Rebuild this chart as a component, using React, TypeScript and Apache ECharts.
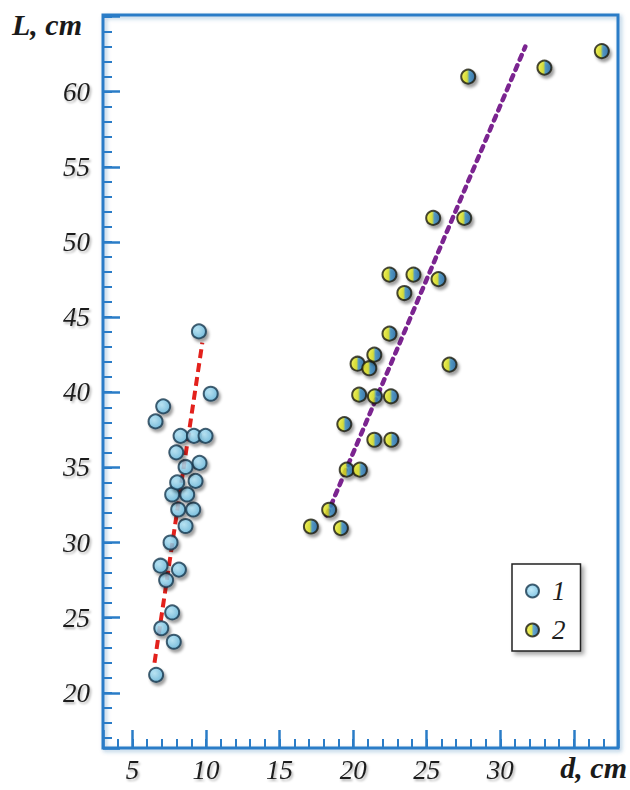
import React, { useEffect, useRef } from 'react';
import * as echarts from 'echarts';

// Series 1 (blue circles)
const series1X = [6.61, 6.96, 7.81, 7.7, 7.29, 6.91, 8.16, 7.59, 8.61, 8.11, 9.13, 7.7, 8.72, 8.04, 9.29, 9.56, 8.61, 7.98, 8.27, 9.18, 9.97, 6.57, 7.09, 9.52, 10.32];
const series1Y = [21.2, 24.3, 23.4, 25.35, 27.5, 28.46, 28.2, 30.0, 31.1, 32.2, 32.2, 33.2, 33.2, 34.0, 34.1, 35.3, 35.03, 36.0, 37.1, 37.1, 37.1, 38.06, 39.06, 44.05, 39.9];

// Series 2 (yellow/blue circles)
const series2X = [17.13, 19.17, 18.37, 19.56, 20.46, 19.4, 21.44, 22.6, 20.41, 21.48, 22.57, 20.3, 21.1, 21.44, 22.47, 26.55, 23.48, 22.47, 24.1, 25.8, 25.44, 27.55, 27.82, 33.0, 36.9];
const series2Y = [31.07, 30.96, 32.18, 34.85, 34.85, 37.88, 36.84, 36.84, 39.84, 39.73, 39.73, 41.9, 41.6, 42.5, 43.9, 41.84, 46.6, 47.83, 47.83, 47.53, 51.6, 51.6, 61.0, 61.6, 62.7];

// Trend lines (end points)
const trend1X = [6.5, 9.75];
const trend1Y = [22.0, 43.3];
const trend2X = [18.2, 31.7];
const trend2Y = [31.8, 63.0];

const xTickLabels = [5, 10, 15, 20, 25, 30];
const yTickLabels = [20, 25, 30, 35, 40, 45, 50, 55, 60];
const seriesNames = ['1', '2'];
const xAxisName = 'd, cm';
const yAxisName = 'L, cm';

const X_MIN = 3;
const X_MAX = 38;
const Y_MIN = 16.33;
const Y_MAX = 65.1;

const zip = (xs: number[], ys: number[]) => xs.map((x, i) => [x, ys[i]]);

const BLUE = '#2a7cc7';
const labelStyle = {
  fontFamily: 'Liberation Serif',
  fontStyle: 'italic' as const,
  fontSize: 27,
  color: '#1e1e1e',
  textShadowColor: 'rgba(0,0,0,0.3)',
  textShadowBlur: 2,
  textShadowOffsetX: 1.5,
  textShadowOffsetY: 2,
};

export default function App() {
  const ref = useRef<HTMLDivElement>(null);
  useEffect(() => {
    const chart = echarts.init(ref.current!, null, { renderer: 'svg' });
    const markerShadow = { shadowColor: 'rgba(0,0,0,0.45)', shadowBlur: 3, shadowOffsetX: 2, shadowOffsetY: 3 };
    const minorAxisX = {
      type: 'value', min: X_MIN, max: X_MAX, minInterval: 1, maxInterval: 1, position: 'bottom',
      axisLine: { show: false }, splitLine: { show: false }, axisLabel: { show: false },
      axisTick: { show: true, inside: true, length: 9, lineStyle: { color: BLUE, width: 2 } },
    };
    const majorAxisX = {
      type: 'value', min: X_MIN, max: X_MAX, minInterval: 5, maxInterval: 5, position: 'bottom',
      axisLine: { show: false }, splitLine: { show: false },
      axisTick: { show: true, inside: true, length: 18, lineStyle: { color: BLUE, width: 2.5 } },
      axisLabel: { show: true, margin: 8, ...labelStyle, formatter: (v: number) => (xTickLabels.includes(v) ? String(v) : '') },
    };
    const minorAxisY = {
      type: 'value', min: Y_MIN, max: Y_MAX, minInterval: 1, maxInterval: 1, position: 'left',
      axisLine: { show: false }, splitLine: { show: false }, axisLabel: { show: false },
      axisTick: { show: true, inside: true, length: 9, lineStyle: { color: BLUE, width: 2 } },
    };
    const majorAxisY = {
      type: 'value', min: Y_MIN, max: Y_MAX, minInterval: 5, maxInterval: 5, position: 'left',
      axisLine: { show: false }, splitLine: { show: false },
      axisTick: { show: true, inside: true, length: 17, lineStyle: { color: BLUE, width: 2.5 } },
      axisLabel: { show: true, margin: 13, ...labelStyle, formatter: (v: number) => (yTickLabels.includes(v) ? String(v) : '') },
    };

    chart.setOption({
      animation: false,
      backgroundColor: '#ffffff',
      grid: {
        show: true, left: 103, top: 15, right: 12, bottom: 42,
        borderColor: BLUE, borderWidth: 3, backgroundColor: 'transparent',
        shadowColor: 'rgba(30,90,160,0.35)', shadowBlur: 4, shadowOffsetX: 2, shadowOffsetY: 2,
      },
      xAxis: [minorAxisX, majorAxisX],
      yAxis: [minorAxisY, majorAxisY],
      legend: {
        data: seriesNames, orient: 'vertical', left: 512, top: 564, padding: [13, 15, 7, 13],
        itemGap: 11, itemWidth: 13, itemHeight: 13,
        borderColor: '#222', borderWidth: 1.5, backgroundColor: '#ffffff',
        shadowColor: 'rgba(0,0,0,0.35)', shadowBlur: 4, shadowOffsetX: 3, shadowOffsetY: 3,
        selectedMode: false, icon: 'circle',
        textStyle: { fontFamily: 'Liberation Serif', fontStyle: 'italic', fontSize: 27, color: '#1e1e1e', lineHeight: 28, padding: [0, 0, 0, 8] },
      },
      graphic: [
        { type: 'text', left: 12, top: 9, style: { text: yAxisName, font: 'italic bold 30px "Liberation Serif"', fill: '#1a1a1a' } },
        { type: 'text', right: 3, top: 752, style: { text: xAxisName, font: 'italic bold 30px "Liberation Serif"', fill: '#1a1a1a' } },
      ],
      series: [
        { name: 'trend1', type: 'line', xAxisIndex: 0, yAxisIndex: 0, data: zip(trend1X, trend1Y), symbol: 'none', z: 2,
          lineStyle: { color: '#e3211c', width: 4, type: [9, 5] } },
        { name: 'trend2', type: 'line', xAxisIndex: 0, yAxisIndex: 0, data: zip(trend2X, trend2Y), symbol: 'none', z: 2,
          lineStyle: { color: '#7b2490', width: 4.5, type: [5, 6], cap: 'round' } },
        { name: seriesNames[0], type: 'scatter', xAxisIndex: 0, yAxisIndex: 0, data: zip(series1X, series1Y), symbolSize: 14, z: 3,
          itemStyle: {
            color: new echarts.graphic.RadialGradient(0.4, 0.4, 0.7, [{ offset: 0, color: '#b4e6f8' }, { offset: 1, color: '#5fb4dc' }]),
            borderColor: '#17384f', borderWidth: 2, ...markerShadow,
          } },
        { name: seriesNames[1], type: 'scatter', xAxisIndex: 0, yAxisIndex: 0, data: zip(series2X, series2Y), symbolSize: 14, z: 3,
          itemStyle: {
            color: new echarts.graphic.LinearGradient(0, 0, 1, 0, [
              { offset: 0, color: '#f4f23a' }, { offset: 0.42, color: '#d6df1e' },
              { offset: 0.58, color: '#3a8fc2' }, { offset: 1, color: '#1f62a0' }]),
            borderColor: '#1a1a0e', borderWidth: 2, ...markerShadow,
          } },
      ],
    });
    return () => chart.dispose();
  }, []);
  return <div ref={ref} style={{ position: 'fixed', left: 0, top: 0, width: 630, height: 790 }} />;
}
